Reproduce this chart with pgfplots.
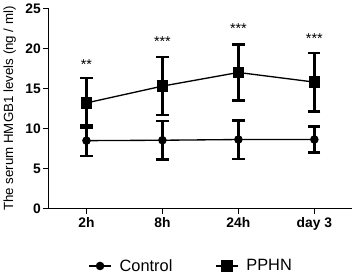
\documentclass[border=0pt]{standalone}
\usepackage{pgfplots}
\pgfplotsset{compat=1.18}
\usepackage{fontspec}
\setmainfont{Liberation Sans}
\begin{document}
\begin{tikzpicture}
\begin{axis}[
  scale only axis,
  width=297pt, height=196pt,
  xmin=-0.5, xmax=3.5, ymin=0, ymax=25,
  axis x line*=bottom, axis y line*=left,
  axis line style={line width=1.3pt},
  xtick={0,1,2,3}, xticklabels={2h,8h,24h,day 3},
  ytick={0,5,10,15,20,25}, yticklabels={0,5,10,15,20,25},
  tick align=outside,
  major tick length=5pt,
  tick style={line width=1.2pt, black},
  ticklabel style={font=\bfseries\fontsize{13.5}{14}\selectfont},
  yticklabel style={xshift=1pt},
  ylabel={The serum HMGB1 levels (ng / ml)},
  ylabel style={font=\fontsize{13}{13}\selectfont, at={(-38pt,0.5)}, anchor=center},
  legend style={draw=none, at={(0.47,-0.285)}, anchor=center, legend columns=2,
    font=\fontsize{16}{17}\selectfont,
    /tikz/every odd column/.append style={column sep=6pt},
    /tikz/every even column/.append style={column sep=40pt}},
  legend image code/.code={\draw[#1, mark repeat=2, mark phase=2] plot coordinates {(0pt,0pt) (10.5pt,0pt) (21pt,0pt)};},
  clip=false,
]
\addplot+[black, line width=1.3pt, mark=*, mark size=3.5pt, mark options={solid, fill=black},
  error bars/.cd, y dir=both, y explicit,
  error bar style={line width=2.4pt},
  error mark options={rotate=90, mark size=6pt, line width=2.4pt}]
  coordinates {
  (0,8.5) +- (0,1.9)
  (1,8.55) +- (0,2.4)
  (2,8.64) +- (0,2.4)
  (3,8.64) +- (0,1.6)
  };
\addlegendentry{Control}
\addplot+[black, line width=1.3pt, mark=square*, mark size=5pt, mark options={solid, fill=black},
  error bars/.cd, y dir=both, y explicit,
  error bar style={line width=2.4pt},
  error mark options={rotate=90, mark size=6pt, line width=2.4pt}]
  coordinates {
  (0,13.2) +- (0,3.1)
  (1,15.3) +- (0,3.6)
  (2,17.0) +- (0,3.5)
  (3,15.8) +- (0,3.65)
  };
\addlegendentry{PPHN}
\node[font=\fontsize{14}{14}\selectfont, yshift=-2pt] at (axis cs:0,18.2) {**};
\node[font=\fontsize{14}{14}\selectfont, yshift=-2pt] at (axis cs:1,21.1) {***};
\node[font=\fontsize{14}{14}\selectfont, yshift=-2pt] at (axis cs:2,22.7) {***};
\node[font=\fontsize{14}{14}\selectfont, yshift=-2pt] at (axis cs:3,21.5) {***};
\end{axis}
\end{tikzpicture}
\end{document}
